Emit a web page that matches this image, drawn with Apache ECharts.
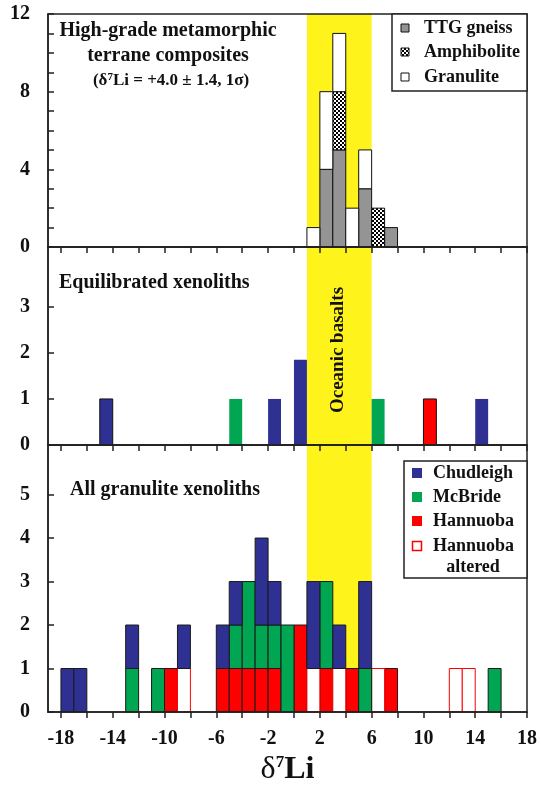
<!DOCTYPE html>
<html>
<head>
<meta charset="utf-8">
<title>d7Li histograms</title>
<script src="https://cdn.jsdelivr.net/npm/echarts@6.0.0/dist/echarts.min.js"></script>
<style>
html, body { margin: 0; padding: 0; background: #fff; }
#main { width: 541px; height: 793px; }
</style>
</head>
<body>
<div id="main"></div>
<script>
// ---- data: every bin is 1 permil wide, listed by its lower edge ----
// high-grade metamorphic terrane composites
const compositeBins = [1, 2, 3, 4, 5, 6, 7];
const ttgGneiss     = [0, 4, 5, 0, 3, 0, 1];
const amphibolite   = [0, 0, 3, 0, 0, 2, 0];
const granulite     = [1, 4, 3, 2, 2, 0, 0];

// equilibrated xenoliths
const eqChudleighBins = [-15, -2, 0, 14];
const eqChudleigh     = [1, 1, 1.85, 1];
const eqMcBrideBins   = [-5, 6];
const eqMcBride       = [1, 1];
const eqHannuobaBins  = [10];
const eqHannuoba      = [1];

// all granulite xenoliths, bins -18 .. 15
const xenoBins = [-18, -17, -16, -15, -14, -13, -12, -11, -10, -9, -8, -7, -6, -5, -4, -3, -2,
                  -1, 0, 1, 2, 3, 4, 5, 6, 7, 8, 9, 10, 11, 12, 13, 14, 15];
const hannuoba        = [0,0,0,0,0,0,0,0,1,0,0,0,1,1,1,1,1,0,2,0,1,0,1,0,0,1,0,0,0,0,0,0,0,0];
const hannuobaAltered = [0,0,0,0,0,0,0,0,0,1,0,0,0,0,0,0,0,0,0,1,0,1,0,0,1,0,0,0,0,0,1,1,0,0];
const mcBride         = [0,0,0,0,0,1,0,1,0,0,0,0,0,1,2,1,1,2,0,0,2,0,0,1,0,0,0,0,0,0,0,0,0,1];
const chudleigh       = [1,1,0,0,0,1,0,0,0,1,0,0,1,1,0,2,1,0,0,2,0,1,0,2,0,0,0,0,0,0,0,0,0,0];

// axes
const xTicks  = [-18, -16, -14, -12, -10, -8, -6, -4, -2, 0, 2, 4, 6, 8, 10, 12, 14, 16, 18];
const xLabels = [-18, -14, -10, -6, -2, 2, 6, 10, 14, 18];
const topTicks  = [0, 1, 2, 3, 4, 5, 6, 7, 8, 9, 10, 11, 12];
const topLabels = [0, 4, 8, 12];
const midTicks  = [0, 1, 2, 3];
const lowTicks  = [0, 1, 2, 3, 4, 5];
const basaltRange = [1, 6];

// ---- look ----
const SERIF = '"Liberation Serif", "Times New Roman", serif';
const INK = '#222';
const BLUE = '#2e3192', GREEN = '#00a651', RED = '#ff0000', GREY = '#949494', YELLOW = '#fff31c';

function checker() {
  const c = document.createElement('canvas');
  c.width = 4; c.height = 4;
  const g = c.getContext('2d');
  g.fillStyle = '#fff'; g.fillRect(0, 0, 4, 4);
  g.fillStyle = '#000'; g.fillRect(0, 0, 2, 2); g.fillRect(2, 2, 2, 2);
  return c;
}
const CHECK = { image: checker(), repeat: 'repeat' };

const box = (fill, stroke, lw) => ({ fill: fill, stroke: stroke, lineWidth: lw });

// stacked histogram layers -> custom series drawing one rect per bin
function histLayers(layers, grid) {
  const base = {};
  return layers.map(layer => {
    const data = [];
    layer.bins.forEach((b, i) => {
      const v = layer.values[i];
      const b0 = base[b] || 0;
      if (v > 0) data.push([b, b0, b0 + v]);
      base[b] = b0 + v;
    });
    return {
      type: 'custom', name: layer.name, xAxisIndex: grid, yAxisIndex: grid, z: 2,
      encode: { x: 0, y: [1, 2] }, data: data, silent: true,
      renderItem: (params, api) => {
        const bin = api.value(0);
        const a = api.coord([bin, api.value(2)]);
        const b = api.coord([bin + 1, api.value(1)]);
        const st = layer.styleFor ? layer.styleFor(bin) : layer.style;
        return { type: 'rect', shape: { x: a[0], y: a[1], width: b[0] - a[0], height: b[1] - a[1] }, style: st };
      }
    };
  });
}

const eqOutlined = [-15, 10];
const eqStyle = col => bin => eqOutlined.indexOf(bin) >= 0 ? box(col, '#111', 1) : box(col, col, 0);

const series = [].concat(
  histLayers([
    { name: 'TTG gneiss', bins: compositeBins, values: ttgGneiss, style: box(GREY, '#111', 1) },
    { name: 'Amphibolite', bins: compositeBins, values: amphibolite, style: box(CHECK, '#111', 1) },
    { name: 'Granulite', bins: compositeBins, values: granulite, style: box('#fff', '#111', 1) }
  ], 0),
  histLayers([
    { name: 'Chudleigh', bins: eqChudleighBins, values: eqChudleigh, styleFor: eqStyle(BLUE) },
    { name: 'McBride', bins: eqMcBrideBins, values: eqMcBride, styleFor: eqStyle(GREEN) },
    { name: 'Hannuoba', bins: eqHannuobaBins, values: eqHannuoba, styleFor: eqStyle(RED) }
  ], 1),
  histLayers([
    { name: 'Hannuoba', bins: xenoBins, values: hannuoba, style: box(RED, '#1a1a1a', 1) },
    { name: 'Hannuoba altered', bins: xenoBins, values: hannuobaAltered, style: box('#fff', RED, 1) },
    { name: 'McBride', bins: xenoBins, values: mcBride, style: box(GREEN, '#1a1a1a', 1) },
    { name: 'Chudleigh', bins: xenoBins, values: chudleigh, style: box(BLUE, '#1a1a1a', 1) }
  ], 2)
);

// oceanic basalt band behind every panel
[0, 1, 2].forEach(i => series.push({
  type: 'line', xAxisIndex: i, yAxisIndex: i, data: [], silent: true,
  markArea: { silent: true, itemStyle: { color: YELLOW }, data: [[{ xAxis: basaltRange[0] }, { xAxis: basaltRange[1] }]] }
}));

const grids = [
  { left: 48, right: 14, top: 14, height: 233 },
  { left: 48, right: 14, top: 247, height: 198 },
  { left: 48, right: 14, top: 445, height: 267 }
].map(g => Object.assign(g, { show: true, z: 3, borderColor: INK, borderWidth: 1.5, backgroundColor: 'transparent' }));

const axisLine = { onZero: false, lineStyle: { color: INK, width: 1.5 } };
const labelFont = { color: '#111', fontFamily: SERIF, fontWeight: 'bold', fontSize: 20 };

const xAxes = [0, 1, 2].map(i => ({
  type: 'value', gridIndex: i, min: -19, max: 18, z: 4,
  splitLine: { show: false }, axisLine: axisLine,
  axisTick: { customValues: xTicks, length: 6, lineStyle: { color: INK, width: 1.5 } },
  axisLabel: Object.assign({ show: i === 2, customValues: xLabels, margin: 17 }, labelFont),
  name: i === 2 ? '{d|δ}{s|7}{l|Li}' : '',
  nameLocation: 'middle', nameGap: 42,
  nameTextStyle: {
    rich: {
      d: { fontFamily: SERIF, fontSize: 32, color: '#111' },
      s: { fontFamily: SERIF, fontSize: 17, color: '#111', verticalAlign: 'top', fontWeight: 'bold' },
      l: { fontFamily: SERIF, fontSize: 32, color: '#111', fontWeight: 'bold' }
    }
  }
}));

function yAxis(i, max, ticks, labels) {
  return {
    type: 'value', gridIndex: i, min: 0, max: max, z: 4,
    splitLine: { show: false }, axisLine: axisLine,
    axisTick: { customValues: ticks, inside: true, length: 6, lineStyle: { color: INK, width: 1.5 } },
    axisLabel: Object.assign({ customValues: labels, margin: 18 }, labelFont)
  };
}

const textStyle = (size, extra) => Object.assign({ font: 'bold ' + size + 'px ' + SERIF, fill: '#111' }, extra || {});

const graphic = [
  // panel titles
  { type: 'text', x: 168, y: 31, z: 10, style: textStyle(20, { text: 'High-grade metamorphic', textAlign: 'center', textVerticalAlign: 'middle' }) },
  { type: 'text', x: 168, y: 56, z: 10, style: textStyle(20, { text: 'terrane composites', textAlign: 'center', textVerticalAlign: 'middle' }) },
  { type: 'text', x: 171, y: 81, z: 10, style: {
      text: '{n|(δ}{s|7}{n|Li = +4.0 ± 1.4, 1σ)}', textAlign: 'center', textVerticalAlign: 'middle',
      rich: {
        n: { fontFamily: SERIF, fontWeight: 'bold', fontSize: 17, fill: '#111', lineHeight: 19 },
        s: { fontFamily: SERIF, fontWeight: 'bold', fontSize: 11, fill: '#111', verticalAlign: 'top', lineHeight: 19 }
      } } },
  { type: 'text', x: 59, y: 283, z: 10, style: textStyle(20, { text: 'Equilibrated xenoliths', textVerticalAlign: 'middle' }) },
  { type: 'text', x: 70, y: 490, z: 10, style: textStyle(20, { text: 'All granulite xenoliths', textVerticalAlign: 'middle' }) },
  { type: 'text', x: 338, y: 350, rotation: Math.PI / 2, z: 10, style: textStyle(19, { text: 'Oceanic basalts', textAlign: 'center', textVerticalAlign: 'middle' }) },

  // legend, composites
  { type: 'rect', z: 10, shape: { x: 392, y: 14, width: 135, height: 77 }, style: { fill: '#fff', stroke: INK, lineWidth: 1.5 } },
  { type: 'rect', z: 11, shape: { x: 401, y: 24, width: 8, height: 8 }, style: box(GREY, '#111', 1) },
  { type: 'rect', z: 11, shape: { x: 401, y: 48, width: 8, height: 8 }, style: box(CHECK, '#111', 1) },
  { type: 'rect', z: 11, shape: { x: 401, y: 73, width: 8, height: 8 }, style: box('#fff', '#111', 1) },
  { type: 'text', z: 11, x: 424, y: 28.5, style: textStyle(18, { text: 'TTG gneiss', textVerticalAlign: 'middle' }) },
  { type: 'text', z: 11, x: 424, y: 52, style: textStyle(18, { text: 'Amphibolite', textVerticalAlign: 'middle' }) },
  { type: 'text', z: 11, x: 424, y: 77, style: textStyle(18, { text: 'Granulite', textVerticalAlign: 'middle' }) },

  // legend, xenoliths
  { type: 'rect', z: 10, shape: { x: 404, y: 461, width: 123, height: 117 }, style: { fill: '#fff', stroke: INK, lineWidth: 1.5 } },
  { type: 'rect', z: 11, shape: { x: 412, y: 468, width: 10, height: 10 }, style: box(BLUE, BLUE, 0) },
  { type: 'rect', z: 11, shape: { x: 412, y: 492, width: 10, height: 10 }, style: box(GREEN, GREEN, 0) },
  { type: 'rect', z: 11, shape: { x: 412, y: 516, width: 10, height: 10 }, style: box(RED, RED, 0) },
  { type: 'rect', z: 11, shape: { x: 412.5, y: 541.5, width: 9, height: 9 }, style: box('#fff', RED, 1.5) },
  { type: 'text', z: 11, x: 433, y: 473, style: textStyle(18, { text: 'Chudleigh', textVerticalAlign: 'middle' }) },
  { type: 'text', z: 11, x: 433, y: 497, style: textStyle(18, { text: 'McBride', textVerticalAlign: 'middle' }) },
  { type: 'text', z: 11, x: 433, y: 521, style: textStyle(18, { text: 'Hannuoba', textVerticalAlign: 'middle' }) },
  { type: 'text', z: 11, x: 433, y: 546, style: textStyle(18, { text: 'Hannuoba', textVerticalAlign: 'middle' }) },
  { type: 'text', z: 11, x: 473, y: 567, style: textStyle(18, { text: 'altered', textAlign: 'center', textVerticalAlign: 'middle' }) }
];

const chart = echarts.init(document.getElementById('main'));
chart.setOption({
  animation: false,
  backgroundColor: '#fff',
  grid: grids,
  xAxis: xAxes,
  yAxis: [
    yAxis(0, 12, topTicks, topLabels),
    yAxis(1, 4.3, midTicks, midTicks),
    yAxis(2, 6.14, lowTicks, lowTicks)
  ],
  series: series,
  graphic: graphic
});
</script>
</body>
</html>
